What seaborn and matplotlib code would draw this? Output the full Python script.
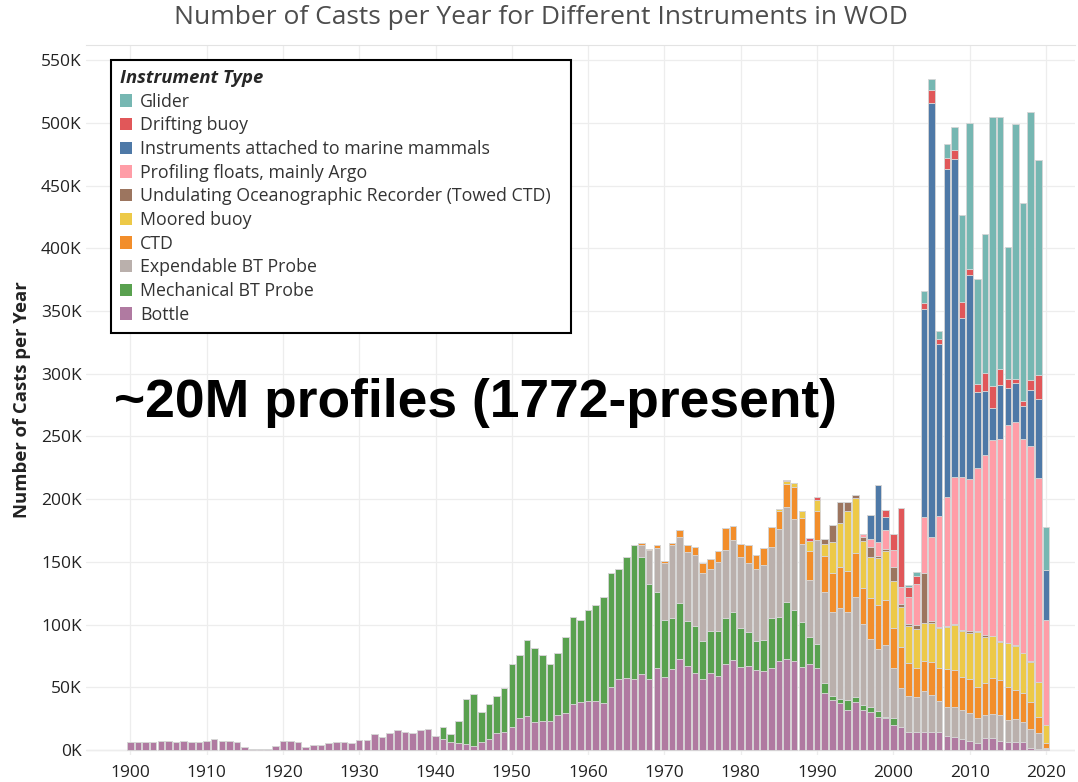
import numpy as np
import pandas as pd
import matplotlib
matplotlib.use("Agg")
import matplotlib.pyplot as plt
import seaborn as sns
from matplotlib.patches import Patch

# casts per year, in thousands; each series starts at its own first year
bottle_start = 1900
bottle = [6.1, 6.1, 6.1, 6.6, 7.2, 7.4, 6.6, 7.2, 6.4, 6.4,
          7.2, 8.8, 7.2, 7.2, 6.4, 2.1, 0.8, 0.5, 0.8, 3.5,
          7.2, 7.2, 6.1, 2.7, 3.7, 3.7, 5.9, 6.4, 6.4, 5.9,
          7.7, 8.0, 12.5, 10.6, 13.3, 16.0, 14.6, 13.8, 16.0, 16.5,
          11.4, 8.8, 6.4, 5.3, 4.5, 2.9, 6.4, 8.8, 13.3, 14.1,
          18.1, 25.8, 26.8, 22.6, 23.4, 23.4, 27.6, 29.5, 36.4, 38.0,
          38.8, 39.3, 37.2, 50.2, 56.4, 57.7, 56.6, 60.3, 56.6, 65.1,
          58.5, 64.6, 72.3, 67.0, 61.1, 56.6, 61.1, 59.3, 68.6, 71.5,
          65.9, 67.0, 63.5, 62.7, 65.1, 70.7, 72.8, 71.2, 66.5, 68.6,
          65.1, 45.2, 39.9, 37.7, 31.9, 38.5, 31.9, 30.0, 26.0, 25.3,
          19.9, 18.6, 14.6, 14.1, 14.1, 14.1, 14.1, 11.2, 10.1, 8.8,
          7.4, 5.3, 9.3, 9.3, 7.4, 6.1, 6.1, 6.6, 1.3, 0.8, 0.5]

mbt_start = 1941
mbt = [9.8, 6.4, 17.8, 36.4, 41.5, 23.6, 28.1, 29.8, 35.6,
       50.5, 50.2, 60.9, 58.5, 52.1, 45.2, 49.5, 60.3, 69.7, 65.4,
       72.8, 76.3, 84.5, 90.7, 87.9, 96.5, 106.6, 93.9, 75.5, 60.6,
       44.9, 40.7, 45.2, 35.6, 38.0, 30.1, 34.1, 35.9, 36.7, 38.8,
       31.6, 27.4, 23.7, 25.3, 40.2, 35.6, 45.2, 40.7, 35.3, 21.2,
       19.2, 8.5, 3.2, 2.7, 8.0, 4.0, 4.0, 4.0, 4.8, 1.0, 5.9]

xbt_start = 1967
xbt = [9.0, 27.4, 35.6,
       45.4, 57.9, 52.6, 55.0, 56.1, 54.7, 48.9, 55.0, 54.2, 56.9,
       56.1, 54.7, 56.9, 59.3, 56.6, 69.7, 75.5, 72.0, 62.5, 45.5,
       82.9, 72.0, 66.7, 72.6, 69.9, 79.2, 64.6, 54.2, 49.7, 57.1,
       39.3, 31.1, 28.5, 27.9, 33.2, 29.8, 25.2, 23.4, 24.5, 23.1,
       21.8, 20.0, 18.6, 19.1, 20.5, 17.8, 18.4, 16.0, 15.2, 12.5, 1.4]

ctd_start = 1967
ctd = [2.1, 0.5, 2.2,
       1.9, 2.1, 5.3, 5.6, 6.9, 7.4, 7.9, 8.7, 17.3, 11.4,
       10.7, 14.1, 11.4, 13.5, 15.7, 14.8, 18.3, 26.1, 20.4, 23.6,
       23.6, 29.3, 31.6, 33.2, 32.9, 35.1, 28.4, 32.7, 35.1, 35.9,
       31.9, 32.7, 26.0, 23.1, 23.7, 26.0, 25.8, 30.0, 29.2, 26.6,
       27.4, 24.7, 25.3, 29.3, 27.9, 26.1, 23.3, 22.6, 22.0, 13.3, 3.9]

moored_start = 1985
moored = [1.1, 2.7, 3.2, 5.9, 8.0,
          8.6, 9.3, 24.7, 34.5, 48.1, 43.9, 37.8, 32.7, 37.8, 39.1,
          37.8, 31.9, 30.0, 31.1, 30.0, 31.1, 31.9, 33.7, 35.9, 36.7,
          37.0, 44.4, 37.2, 33.2, 30.6, 35.1, 35.4, 31.9, 31.9, 27.4, 14.1]

uor_start = 1991
uor = [4.2, 13.3, 17.3, 7.2, 2.6, 2.9, 8.0, 1.3, 2.1,
       10.9, 2.1, 1.4, 3.5, 39.9, 2.1, 1.3, 0.5, 0.5, 0.5,
       1.6, 0.5, 1.3, 0.3, 0.3, 0.3, 0.3, 0.3, 0.3, 0.0, 0.0]

argo_start = 1996
argo = [2.6, 6.4, 11.4, 14.6,
        13.8, 13.8, 21.8, 32.4, 45.2, 66.5, 88.3, 103.2, 117.2, 122.3,
        120.6, 130.2, 143.5, 156.3, 161.6, 173.8, 178.3, 170.6, 172.0, 162.6, 83.8]

mammals_start = 1997
mammals = [19.4, 44.9, 10.6,
           0, 0, 0, 0, 165.3, 346.6, 137.2, 261.1, 254.2, 126.7,
           162.7, 60.4, 51.3, 25.3, 43.0, 29.2, 31.1, 26.3, 44.3, 63.0, 39.8]

drifting_start = 1986
drifting = [0.8, 0, 0, 2.2,
            2.1, 0, 0, 0, 0, 0, 0, 0, 0, 5.3,
            12.7, 62.5, 7.4, 6.9, 4.8, 10.1, 4.2, 9.3, 6.8, 12.8,
            4.8, 6.5, 14.4, 17.2, 12.5, 7.2, 2.7, 4.2, 8.0, 19.4, 0]

glider_start = 2002
glider = [1.9, 2.9, 9.8, 8.8, 6.4, 10.6, 18.1, 69.1,
          116.9, 83.3, 110.6, 214.5, 200.7, 105.3, 203.6, 157.4, 213.4, 171.5, 34.6]

instruments = ["Glider", "Drifting buoy", "Instruments attached to marine mammals",
               "Profiling floats, mainly Argo", "Undulating Oceanographic Recorder (Towed CTD)",
               "Moored buoy", "CTD", "Expendable BT Probe", "Mechanical BT Probe", "Bottle"]
colors = ["#76b7b2", "#e15759", "#4e79a7", "#ff9da7", "#9c755f",
          "#edc948", "#f28e2b", "#bab0ac", "#59a14f", "#b07aa1"]

series = [(glider_start, glider), (drifting_start, drifting), (mammals_start, mammals),
          (argo_start, argo), (uor_start, uor), (moored_start, moored), (ctd_start, ctd),
          (xbt_start, xbt), (mbt_start, mbt), (bottle_start, bottle)]

years = np.arange(1900, 2021)
rows = []
for name, (start, vals) in zip(instruments, series):
    full = np.zeros(len(years))
    full[start - 1900:start - 1900 + len(vals)] = vals
    for y, v in zip(years, full):
        rows.append((y, name, v))
df = pd.DataFrame(rows, columns=["year", "instrument", "casts"])

sns.set_style("white")
plt.rcParams["font.family"] = ["Open Sans", "DejaVu Sans"]

fig = plt.figure(figsize=(10.78, 7.82), dpi=100)
ax = fig.add_axes([86 / 1078, 27 / 782, 989 / 1078, 710 / 782])

sns.histplot(data=df, x="year", weights="casts", hue="instrument",
             hue_order=instruments, palette=colors, multiple="stack",
             discrete=True, shrink=0.86, alpha=1, edgecolor="#d6d6d6",
             linewidth=0.6, legend=False, ax=ax)

ax.set_xlim(1894.2, 2023.8)
ax.set_ylim(-4, 562.2)
ax.set_xticks(range(1900, 2021, 10))
ax.set_yticks(range(0, 551, 50))
ax.set_yticklabels([f"{v}K" for v in range(0, 551, 50)])
ax.grid(True, color="#ededed", linewidth=0.9)
ax.set_axisbelow(True)
ax.axhline(0, color="#dcdcdc", linewidth=0.9, zorder=0.5)
for s in ["left", "right", "bottom"]:
    ax.spines[s].set_visible(False)
ax.spines["top"].set_color("#e3e3e3")
ax.tick_params(axis="x", length=4, color="#d0d0d0", labelsize=12.5, labelcolor="#222222", pad=3)
ax.tick_params(axis="y", length=0, labelsize=12.5, labelcolor="#222222", pad=3)
ax.set_xlabel("")
ax.set_ylabel("Number of Casts per Year", fontsize=13.3, fontweight="bold", color="#222222", labelpad=7)

fig.text(541 / 1078, 1 - 18 / 782, "Number of Casts per Year for Different Instruments in WOD",
         ha="center", va="center", fontsize=19, color="#4d4d4d")

fig.text(475 / 1078, 1 - 403 / 782, "~20M profiles (1772-present)", ha="center", va="center",
         fontsize=38.4, fontweight="bold", family="Liberation Sans", color="black")

handles = [Patch(facecolor=c, edgecolor="none") for c in colors]
leg = ax.legend(handles, instruments, title="Instrument Type", loc="upper left",
                bbox_to_anchor=(111 / 1078, 1 - 327 / 782, 460 / 1078, 267 / 782),
                bbox_transform=fig.transFigure, mode="expand",
                frameon=True, fancybox=False, framealpha=1, edgecolor="black",
                fontsize=12.8, handlelength=0.7, handleheight=0.7, handletextpad=0.45,
                labelspacing=0.32, borderpad=0.5, borderaxespad=0)
leg.get_frame().set_linewidth(1.5)
leg.get_title().set_fontweight("bold")
leg.get_title().set_fontstyle("italic")
leg.get_title().set_fontsize(13.3)
leg._legend_box.align = "left"
for t in leg.get_texts():
    t.set_color("#333333")

fig.savefig("out.png", dpi=100)
